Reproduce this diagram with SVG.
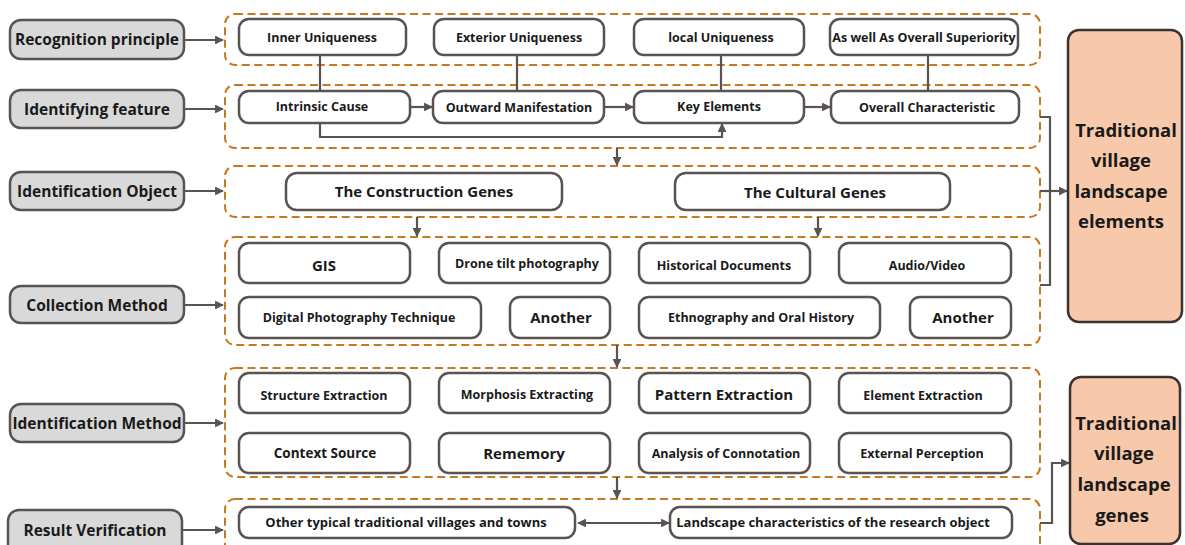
<svg xmlns="http://www.w3.org/2000/svg" width="1185" height="545" viewBox="0 0 1185 545">
  <defs>
    <marker id="arr" viewBox="0 0 10 10" refX="9" refY="5" markerWidth="4" markerHeight="4" orient="auto-start-reverse" markerUnits="strokeWidth">
      <path d="M0,0 L10,5 L0,10 z" fill="#5a5352"/>
    </marker>
    <style>
      .lbl rect{fill:#d9d9d9;stroke:#5a5352;stroke-width:2.5}
      .lbl text{font-family:"Open Sans","Liberation Sans",sans-serif;font-weight:bold;font-size:15.5px;fill:#1a1a1a;text-anchor:middle}
      .grp{fill:none;stroke:#c8791f;stroke-width:2;stroke-dasharray:8 4.5}
      .box rect{fill:#fff;stroke:#5a5352;stroke-width:2.5}
      .box text{font-family:"Open Sans","Liberation Sans",sans-serif;font-weight:bold;font-size:12.5px;fill:#1a1a1a;text-anchor:middle}
      .box text.big{font-size:15px}
      .res rect{fill:#f7c9aa;stroke:#3b3130;stroke-width:2.5}
      .res text{font-family:"Open Sans","Liberation Sans",sans-serif;font-weight:bold;font-size:18.5px;fill:#1a1a1a;text-anchor:middle}
      .con{fill:none;stroke:#5a5352;stroke-width:2.2}
      .con .a{marker-end:url(#arr)}
    </style>
  </defs>

  <!-- stage labels -->
  <g id="stage-recognition" class="lbl"><rect x="10" y="20" width="174" height="39" rx="11"/><text x="97" y="45">Recognition principle</text></g>
  <g id="stage-feature" class="lbl"><rect x="10" y="90" width="174" height="38" rx="11"/><text x="97" y="115">Identifying feature</text></g>
  <g id="stage-object" class="lbl"><rect x="10" y="172" width="174" height="38" rx="11"/><text x="97" y="197">Identification Object</text></g>
  <g id="stage-collection" class="lbl"><rect x="10" y="286" width="174" height="37" rx="11"/><text x="97" y="311">Collection Method</text></g>
  <g id="stage-method" class="lbl"><rect x="10" y="404" width="174" height="38" rx="11"/><text x="97" y="429">Identification Method</text></g>
  <g id="stage-verification" class="lbl"><rect x="8" y="510" width="174" height="45" rx="11"/><text x="95" y="536">Result Verification</text></g>

  <!-- dashed stage groups -->
  <g id="groups">
    <rect class="grp" x="225" y="14" width="815" height="51" rx="10"/>
    <rect class="grp" x="225" y="85" width="815" height="63" rx="10"/>
    <rect class="grp" x="225" y="166" width="815" height="51" rx="10"/>
    <rect class="grp" x="225" y="237" width="815" height="108" rx="10"/>
    <rect class="grp" x="225" y="368" width="815" height="109" rx="10"/>
    <rect class="grp" x="225" y="499" width="815" height="60" rx="10"/>
  </g>

  <!-- connectors -->
  <g id="connectors" class="con">
    <line class="a" x1="184" y1="40" x2="223" y2="40"/>
    <line class="a" x1="184" y1="109" x2="223" y2="109"/>
    <line class="a" x1="184" y1="191" x2="223" y2="191"/>
    <line class="a" x1="184" y1="305" x2="223" y2="305"/>
    <line class="a" x1="184" y1="423" x2="223" y2="423"/>
    <line class="a" x1="182" y1="530" x2="223" y2="530"/>

    <line x1="320" y1="55" x2="320" y2="91"/>
    <line x1="517" y1="55" x2="517" y2="91"/>
    <line x1="721" y1="55" x2="721" y2="91"/>
    <line x1="928" y1="55" x2="928" y2="91"/>

    <line class="a" x1="410" y1="107" x2="432" y2="107"/>
    <line class="a" x1="604" y1="107" x2="633" y2="107"/>
    <line class="a" x1="804" y1="107" x2="830" y2="107"/>
    <polyline class="a" points="320,123 320,137 722,137 722,124"/>

    <line class="a" x1="617" y1="148" x2="617" y2="165"/>
    <line class="a" x1="417" y1="217" x2="417" y2="236"/>
    <line class="a" x1="818" y1="217" x2="818" y2="236"/>
    <line class="a" x1="617" y1="345" x2="617" y2="367"/>
    <line class="a" x1="617" y1="477" x2="617" y2="498"/>

    <line class="a" x1="578" y1="523" x2="669" y2="523" marker-start="url(#arr)"/>

    <polyline points="1040,117 1050,117 1050,285 1040,285"/>
    <line class="a" x1="1040" y1="191" x2="1067" y2="191"/>
    <polyline class="a" points="1040,523 1052,523 1052,463 1069,463"/>
  </g>

  <!-- recognition principle -->
  <g id="inner-uniqueness" class="box"><rect x="239" y="19" width="167" height="36" rx="10"/><text x="322" y="42">Inner Uniqueness</text></g>
  <g id="exterior-uniqueness" class="box"><rect x="434" y="19" width="170" height="36" rx="10"/><text x="519" y="42">Exterior Uniqueness</text></g>
  <g id="local-uniqueness" class="box"><rect x="634" y="19" width="170" height="36" rx="10"/><text x="721" y="42">local Uniqueness</text></g>
  <g id="overall-superiority" class="box"><rect x="830" y="19" width="188" height="36" rx="10"/><text x="924" y="42">As well As Overall Superiority</text></g>

  <!-- identifying feature -->
  <g id="intrinsic-cause" class="box"><rect x="239" y="91" width="171" height="32" rx="10"/><text x="322" y="111">Intrinsic Cause</text></g>
  <g id="outward-manifestation" class="box"><rect x="433" y="91" width="171" height="32" rx="10"/><text x="519" y="112">Outward Manifestation</text></g>
  <g id="key-elements" class="box"><rect x="634" y="91" width="170" height="32" rx="10"/><text x="719" y="111">Key Elements</text></g>
  <g id="overall-characteristic" class="box"><rect x="831" y="91" width="188" height="32" rx="10"/><text x="927" y="112">Overall Characteristic</text></g>

  <!-- identification object -->
  <g id="construction-genes" class="box"><rect x="286" y="173" width="276" height="37" rx="11"/><text class="big" x="424" y="197">The Construction Genes</text></g>
  <g id="cultural-genes" class="box"><rect x="675" y="173" width="275" height="37" rx="11"/><text class="big" x="815" y="198">The Cultural Genes</text></g>

  <!-- collection method -->
  <g id="gis" class="box"><rect x="239" y="243" width="171" height="40" rx="10"/><text class="big" x="324" y="271">GIS</text></g>
  <g id="drone" class="box"><rect x="439" y="243" width="171" height="40" rx="10"/><text x="527" y="268">Drone tilt photography</text></g>
  <g id="historical-documents" class="box"><rect x="639" y="243" width="171" height="40" rx="10"/><text x="724" y="270">Historical Documents</text></g>
  <g id="audio-video" class="box"><rect x="839" y="243" width="172" height="40" rx="10"/><text x="927" y="270">Audio/Video</text></g>
  <g id="digital-photography" class="box"><rect x="239" y="297" width="242" height="41" rx="10"/><text x="359" y="322">Digital Photography Technique</text></g>
  <g id="another-1" class="box"><rect x="510" y="297" width="100" height="41" rx="10"/><text class="big" x="561" y="323">Another</text></g>
  <g id="ethnography" class="box"><rect x="639" y="297" width="241" height="41" rx="10"/><text x="761" y="322">Ethnography and Oral History</text></g>
  <g id="another-2" class="box"><rect x="910" y="297" width="101" height="41" rx="10"/><text class="big" x="963" y="323">Another</text></g>

  <!-- identification method -->
  <g id="structure-extraction" class="box"><rect x="239" y="373" width="171" height="40" rx="10"/><text x="324" y="400">Structure Extraction</text></g>
  <g id="morphosis-extracting" class="box"><rect x="439" y="373" width="171" height="40" rx="10"/><text x="527" y="399">Morphosis Extracting</text></g>
  <g id="pattern-extraction" class="box"><rect x="639" y="373" width="171" height="40" rx="10"/><text class="big" x="724" y="400">Pattern Extraction</text></g>
  <g id="element-extraction" class="box"><rect x="839" y="373" width="172" height="40" rx="10"/><text x="923" y="400">Element Extraction</text></g>
  <g id="context-source" class="box"><rect x="239" y="433" width="171" height="40" rx="10"/><text x="325" y="458" style="font-size:13.5px">Context Source</text></g>
  <g id="rememory" class="box"><rect x="439" y="433" width="171" height="40" rx="10"/><text class="big" x="524" y="459">Rememory</text></g>
  <g id="analysis-connotation" class="box"><rect x="639" y="433" width="171" height="40" rx="10"/><text x="726" y="458">Analysis of Connotation</text></g>
  <g id="external-perception" class="box"><rect x="839" y="433" width="172" height="40" rx="10"/><text x="922" y="458">External Perception</text></g>

  <!-- result verification -->
  <g id="other-villages" class="box"><rect x="239" y="507" width="336" height="31" rx="10"/><text x="406" y="527" style="font-size:13px">Other typical traditional villages and towns</text></g>
  <g id="research-object" class="box"><rect x="670" y="507" width="342" height="31" rx="10"/><text x="833" y="527" style="font-size:13px">Landscape characteristics of the research object</text></g>

  <!-- outcomes -->
  <g id="landscape-elements" class="res"><rect x="1068" y="30" width="114" height="292" rx="11"/>
    <text x="1126" y="137">Traditional</text><text x="1121" y="167">village</text><text x="1121" y="198">landscape</text><text x="1121" y="228">elements</text></g>
  <g id="landscape-genes" class="res"><rect x="1070" y="377" width="110" height="167" rx="11"/>
    <text x="1126" y="430">Traditional</text><text x="1124" y="460">village</text><text x="1124" y="491">landscape</text><text x="1122" y="522">genes</text></g>
</svg>
